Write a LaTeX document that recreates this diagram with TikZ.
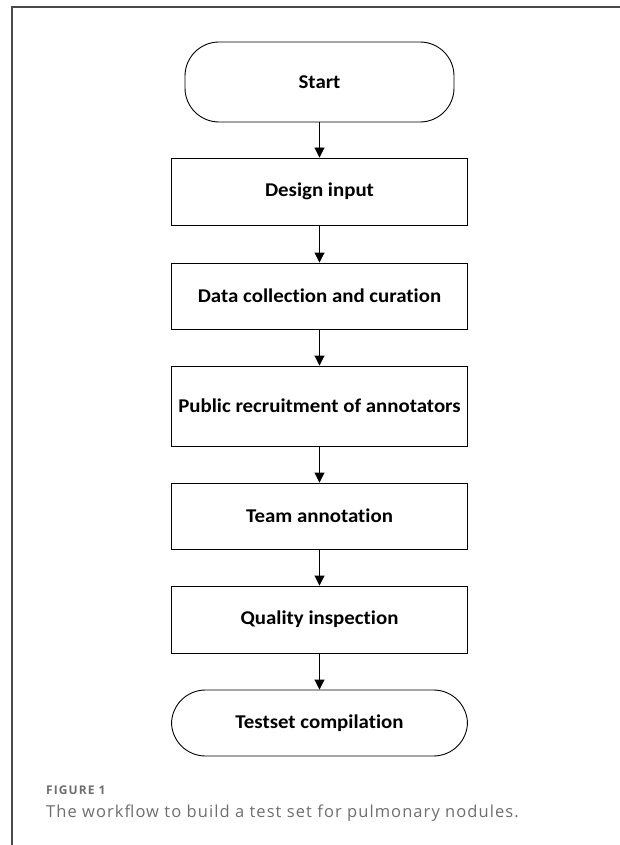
\documentclass[tikz,border=0pt]{standalone}
\usepackage{fontspec}
\setmainfont[Ligatures=NoCommon, FakeStretch=1.07]{Carlito}
\newfontfamily\capfont[LetterSpace=6.5]{Open Sans}
\newfontfamily\caplabelfont[LetterSpace=9]{Open Sans}
\usetikzlibrary{arrows.meta}
\definecolor{framegray}{HTML}{4A4A4A}
\definecolor{capgray}{HTML}{6E6E6E}
\tikzset{
  procbox/.style={draw=black, line width=0.9pt, minimum width=296pt, inner sep=0pt, font=\bfseries\fontsize{19.5}{23}\selectfont, align=center},
  termbox/.style={procbox, rounded corners=34pt},
  flowarrow/.style={line width=0.9pt, -{Triangle[width=10pt,length=10pt]}},
  captext/.style={anchor=base west, inner sep=0pt, text=capgray}
}
\begin{document}
\begin{tikzpicture}[x=1pt,y=-1pt]
\useasboundingbox (0,0) rectangle (620,845);
\draw[framegray, line width=1.4pt] (620,7) -- (12,7) -- (12,845);
\node[termbox, minimum width=269pt, minimum height=80pt] (start) at (319.5,82) {Start};
\node[procbox, minimum height=67pt] (design) at (319.5,191.5) {Design input};
\node[procbox, minimum height=66pt] (data) at (319.5,296) {Data collection and curation};
\node[procbox, minimum height=80pt] (public) at (319.5,406) {Public recruitment of annotators};
\node[procbox, minimum height=66pt] (team) at (319.5,516) {Team annotation};
\node[procbox, minimum height=67pt] (quality) at (319.5,619.5) {Quality inspection};
\node[termbox, minimum height=66pt] (testset) at (319.5,723) {Testset compilation};
\draw[flowarrow] (start) -- (design);
\draw[flowarrow] (design) -- (data);
\draw[flowarrow] (data) -- (public);
\draw[flowarrow] (public) -- (team);
\draw[flowarrow] (team) -- (quality);
\draw[flowarrow] (quality) -- (testset);
\node[captext, font=\caplabelfont\bfseries\fontsize{12}{14}\selectfont] (figlabel) at (46,794) {FIGURE 1};
\node[captext, font=\capfont\fontsize{16.5}{19}\selectfont] (figcaption) at (46,817) {The workflow to build a test set for pulmonary nodules.};
\end{tikzpicture}
\end{document}
